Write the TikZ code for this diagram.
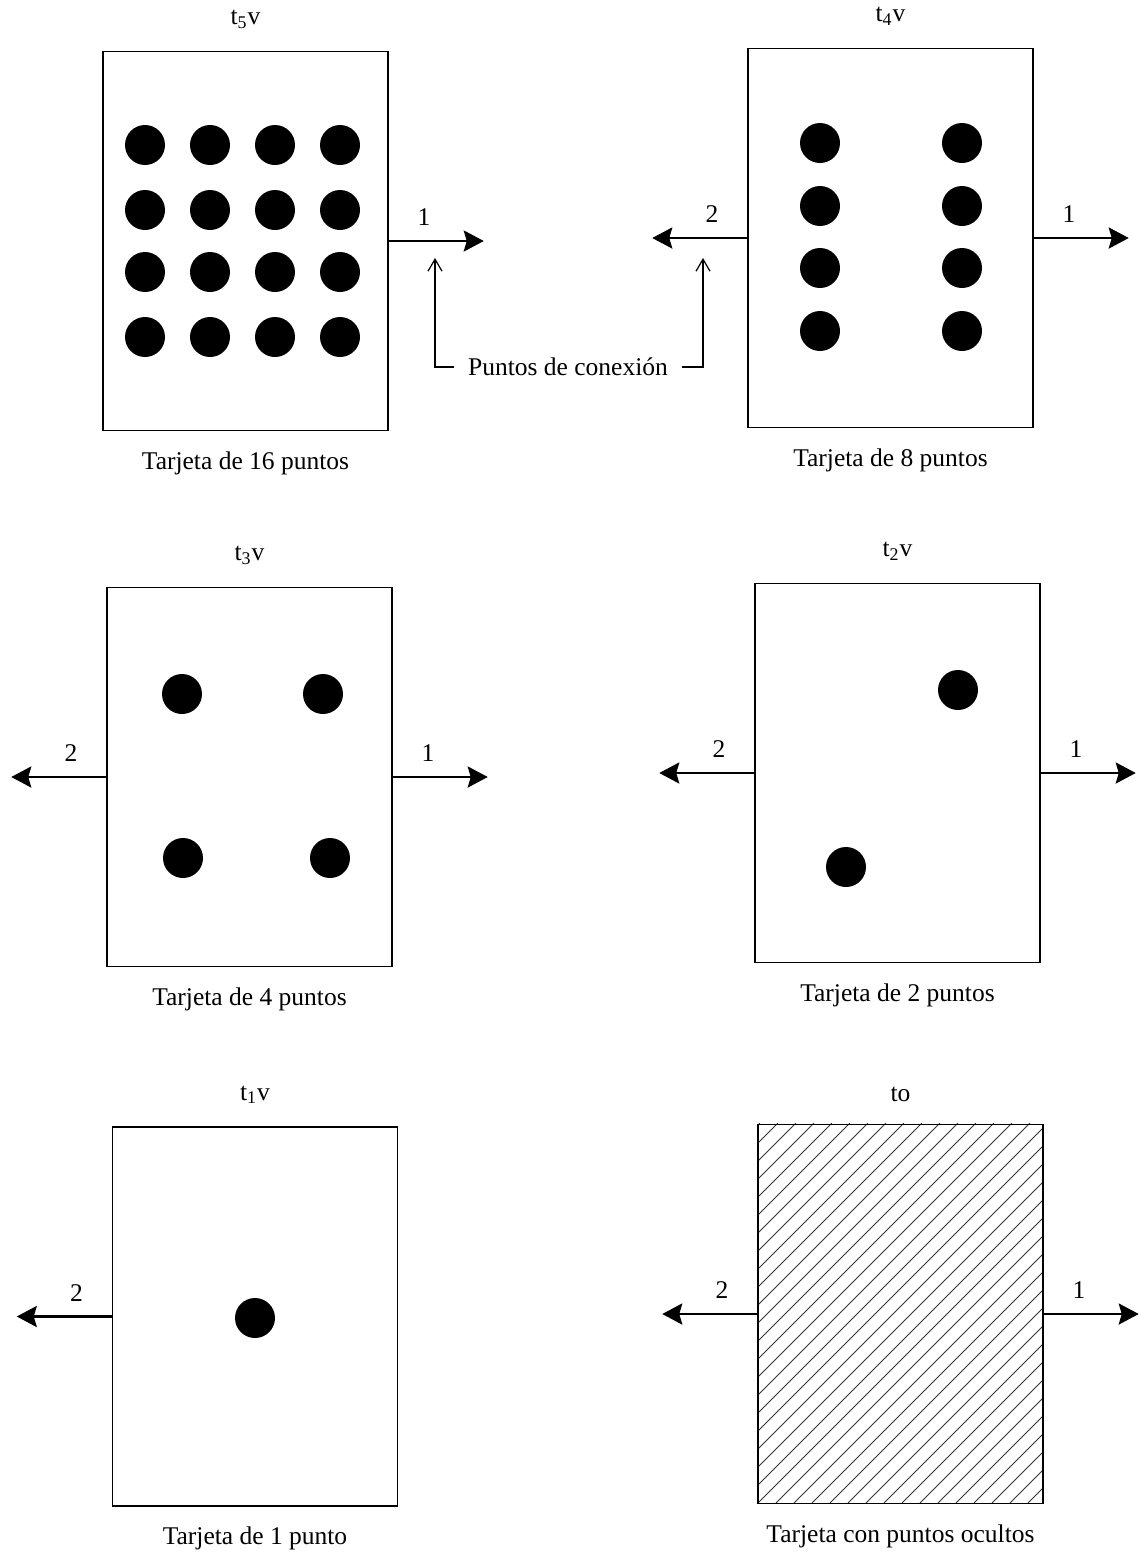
\documentclass[tikz,border=0pt]{standalone}
\usepackage{fontspec}
\setmainfont{Liberation Serif}
\usetikzlibrary{arrows.meta,positioning}
\newcommand{\fnt}{\fontsize{12.75}{15}\selectfont}
\newcommand{\tarjeta}[4]{%
  \node[card] (#1) at (#2) {};
  \node[ttl, above=11pt of #1] (#1t) {#3};
  \node[pie, below=10pt of #1] (#1c) {#4};}
\tikzset{
  card/.style={draw, line width=0.75pt, minimum width=142.5pt, minimum height=189.5pt, inner sep=0pt},
  dot/.style={circle, fill=black, inner sep=0pt, minimum size=20pt},
  ttl/.style={font=\fnt, inner sep=0pt},
  pie/.style={font=\fnt, inner sep=0pt},
  nlab/.style={font=\fnt, inner sep=0pt},
  barr/.style={-{Stealth[length=10pt, width=10.5pt, inset=1.5pt]}, line width=1.3pt},
  parr/.style={-{Straight Barb[length=6pt, width=7pt]}, line width=0.6pt},
  hatch/.style={line width=0.5pt, black!80},
}
\begin{document}
\begin{tikzpicture}[x=0.5pt, y=-0.5pt]
\useasboundingbox (0,0) rectangle (1140,1554);
% tarjetas
\tarjeta{A}{245.5,241}{t\textsubscript{5}v}{Tarjeta de 16 puntos}
\tarjeta{B}{890.5,238}{t\textsubscript{4}v}{Tarjeta de 8 puntos}
\tarjeta{C}{249.5,777}{t\textsubscript{3}v}{Tarjeta de 4 puntos}
\tarjeta{D}{897.5,773}{t\textsubscript{2}v}{Tarjeta de 2 puntos}
\tarjeta{E}{255,1316.5}{t\textsubscript{1}v}{Tarjeta de 1 punto}
\tarjeta{F}{900.5,1314}{to}{Tarjeta con puntos ocultos}
% puntos
\foreach \c [count=\i] in {145,210,275,340}
  \foreach \r [count=\j] in {145,210,272,337}
    \node[dot] (a\i\j) at (\c,\r) {};
\foreach \c [count=\i] in {820,962}
  \foreach \r [count=\j] in {143,206,268,331}
    \node[dot] (b\i\j) at (\c,\r) {};
\node[dot] (c1) at (182,694) {};
\node[dot] (c2) at (323,694) {};
\node[dot] (c3) at (183,858) {};
\node[dot] (c4) at (330,858) {};
\node[dot] (d1) at (958,690) {};
\node[dot] (d2) at (846,867) {};
\node[dot] (e1) at (255,1318) {};
% rayado
\begin{scope}
  \clip (F.south west) rectangle (F.north east);
  \foreach \s in {380,398,...,1060}
    \draw[hatch] (\s,1503) -- ++(380,-380);
\end{scope}
\node[card] at (F) {};
% salidas
\foreach \n in {A,B,C,D,F} {
  \coordinate[right=47.5pt of \n.east] (\n1);
  \draw[barr] (\n.east) -- (\n1) node[nlab, pos=0.37, above=7pt] {1};
}
\foreach \n in {B,C,D,E,F} {
  \coordinate[left=47.5pt of \n.west] (\n2);
  \draw[barr] (\n.west) -- (\n2) node[nlab, pos=0.37, above=7pt] {2};
}
% puntos de conexion
\node[font=\fnt, inner sep=7pt] (pc) at (568,367) {Puntos de conexión};
\coordinate (pl) at (435,258);
\coordinate (pr) at (703,258);
\draw[parr] (pc.west) -| (pl);
\draw[parr] (pc.east) -| (pr);
\end{tikzpicture}
\end{document}
